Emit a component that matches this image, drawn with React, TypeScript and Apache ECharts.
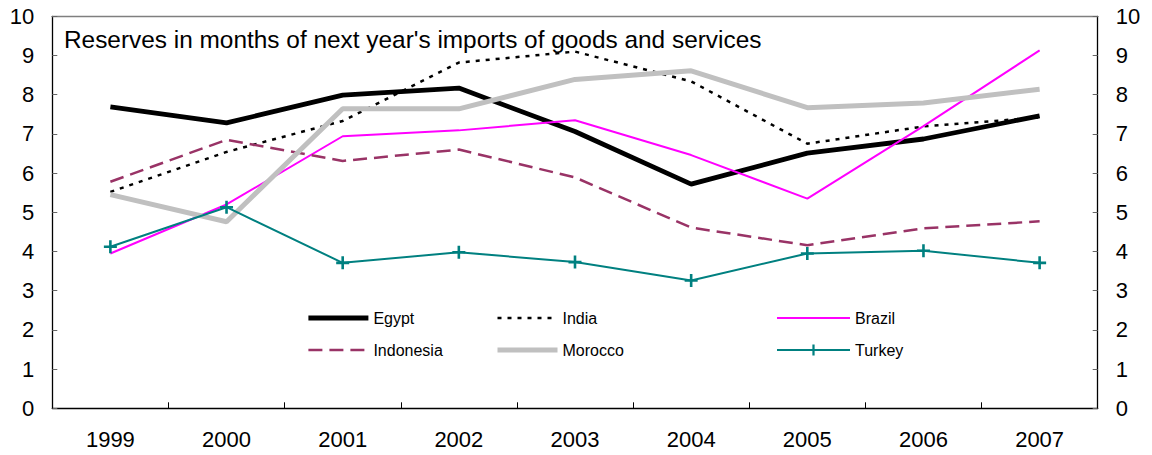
import React, { useEffect, useRef } from "react";
import * as echarts from "echarts";

const years = ["1999", "2000", "2001", "2002", "2003", "2004", "2005", "2006", "2007"];
const egypt = [7.69, 7.28, 7.99, 8.17, 7.06, 5.72, 6.51, 6.87, 7.46];
const india = [5.52, 6.54, 7.33, 8.82, 9.1, 8.34, 6.75, 7.19, 7.42];
const brazil = [3.95, 5.2, 6.94, 7.09, 7.35, 6.46, 5.35, 7.2, 9.13];
const indonesia = [5.78, 6.85, 6.31, 6.6, 5.89, 4.61, 4.16, 4.59, 4.77];
const morocco = [5.45, 4.76, 7.64, 7.64, 8.39, 8.61, 7.67, 7.79, 8.14];
const turkey = [4.12, 5.13, 3.71, 3.98, 3.73, 3.26, 3.95, 4.02, 3.71];
const titleText = "Reserves in months of next year's imports of goods and services";

const FONT = "'Liberation Sans', Arial, sans-serif";
const PLUS = "path://M4,0H6V4H10V6H6V10H4V6H0V4H4Z";

export default function App() {
  const ref = useRef<HTMLDivElement>(null);
  useEffect(() => {
    if (!ref.current) return;
    const chart = echarts.init(ref.current, undefined, { renderer: "svg" });
    const yAxisCommon = {
      type: "value",
      min: 0,
      max: 10,
      interval: 1,
      splitLine: { show: false },
      axisLine: { show: true, lineStyle: { color: "#000", width: 1.3 } },
      axisTick: { show: true, inside: true, length: 5, lineStyle: { color: "#666" } },
      axisLabel: { color: "#000", fontSize: 22, fontFamily: FONT, margin: 18 },
    };
    const legendCommon = {
      orient: "vertical",
      top: 310,
      padding: 0,
      itemHeight: 14,
      itemGap: 16,
      textStyle: { color: "#000", fontSize: 16, fontFamily: FONT },
      selectedMode: false,
    };
    const item = (name: string, width: number, hideSym = true) => ({
      name,
      lineStyle: { width },
      ...(hideSym ? { itemStyle: { color: "rgba(0,0,0,0)", opacity: 0, borderWidth: 0 } } : {}),
    });
    const mk = (name: string, data: number[], color: string, width: number, type: any, z: number, extra: any = {}) => ({
      name,
      type: "line",
      data,
      z,
      symbol: "none",
      silent: true,
      lineStyle: { color, width, type },
      itemStyle: { color },
      emphasis: { disabled: true },
      ...extra,
    });
    chart.setOption({
      animation: false,
      grid: { left: 52.3, right: 54.3, top: 16.3, bottom: 46.7 },
      xAxis: [
        {
          type: "category",
          data: years,
          boundaryGap: true,
          axisLine: { show: true, onZero: false, lineStyle: { color: "#000", width: 1.3 } },
          axisTick: { show: true, inside: true, length: 6, lineStyle: { color: "#000" } },
          axisLabel: { color: "#000", fontSize: 22, fontFamily: FONT, margin: 20 },
          splitLine: { show: false },
        },
        {
          type: "category",
          data: years,
          position: "top",
          axisLine: { show: true, onZero: false, lineStyle: { color: "#7f7f7f", width: 1.3 } },
          axisTick: { show: false },
          axisLabel: { show: false },
        },
      ],
      yAxis: [
        { ...yAxisCommon, position: "left" },
        { ...yAxisCommon, position: "right" },
      ],
      legend: [
        { ...legendCommon, left: 306, itemWidth: 60, data: [item("Egypt", 4.8), item("Indonesia", 2.5)] },
        { ...legendCommon, left: 495, itemWidth: 60, data: [item("India", 2.5), item("Morocco", 5)] },
        { ...legendCommon, left: 776, itemWidth: 73, data: [item("Brazil", 2), item("Turkey", 2, false)] },
      ],
      graphic: [
        {
          type: "text",
          left: 64,
          top: 27,
          style: { text: titleText, fontSize: 24.4, fontFamily: FONT, fill: "#000" },
        },
      ],
      series: [
        mk("Egypt", egypt, "#000000", 4.8, "solid", 2),
        mk("India", india, "#000000", 2.5, [4, 6], 3),
        mk("Brazil", brazil, "#ff00ff", 2, "solid", 4),
        mk("Indonesia", indonesia, "#993366", 2.5, [14, 7], 5),
        mk("Morocco", morocco, "#c0c0c0", 5, "solid", 6),
        mk("Turkey", turkey, "#008080", 2, "solid", 7, {
          symbol: PLUS,
          symbolSize: 13,
          showSymbol: true,
        }),
      ],
    });
    return () => chart.dispose();
  }, []);
  return (
    <div
      ref={ref}
      style={{ position: "fixed", left: 0, top: 0, width: 1152, height: 455, background: "#fff" }}
    />
  );
}
